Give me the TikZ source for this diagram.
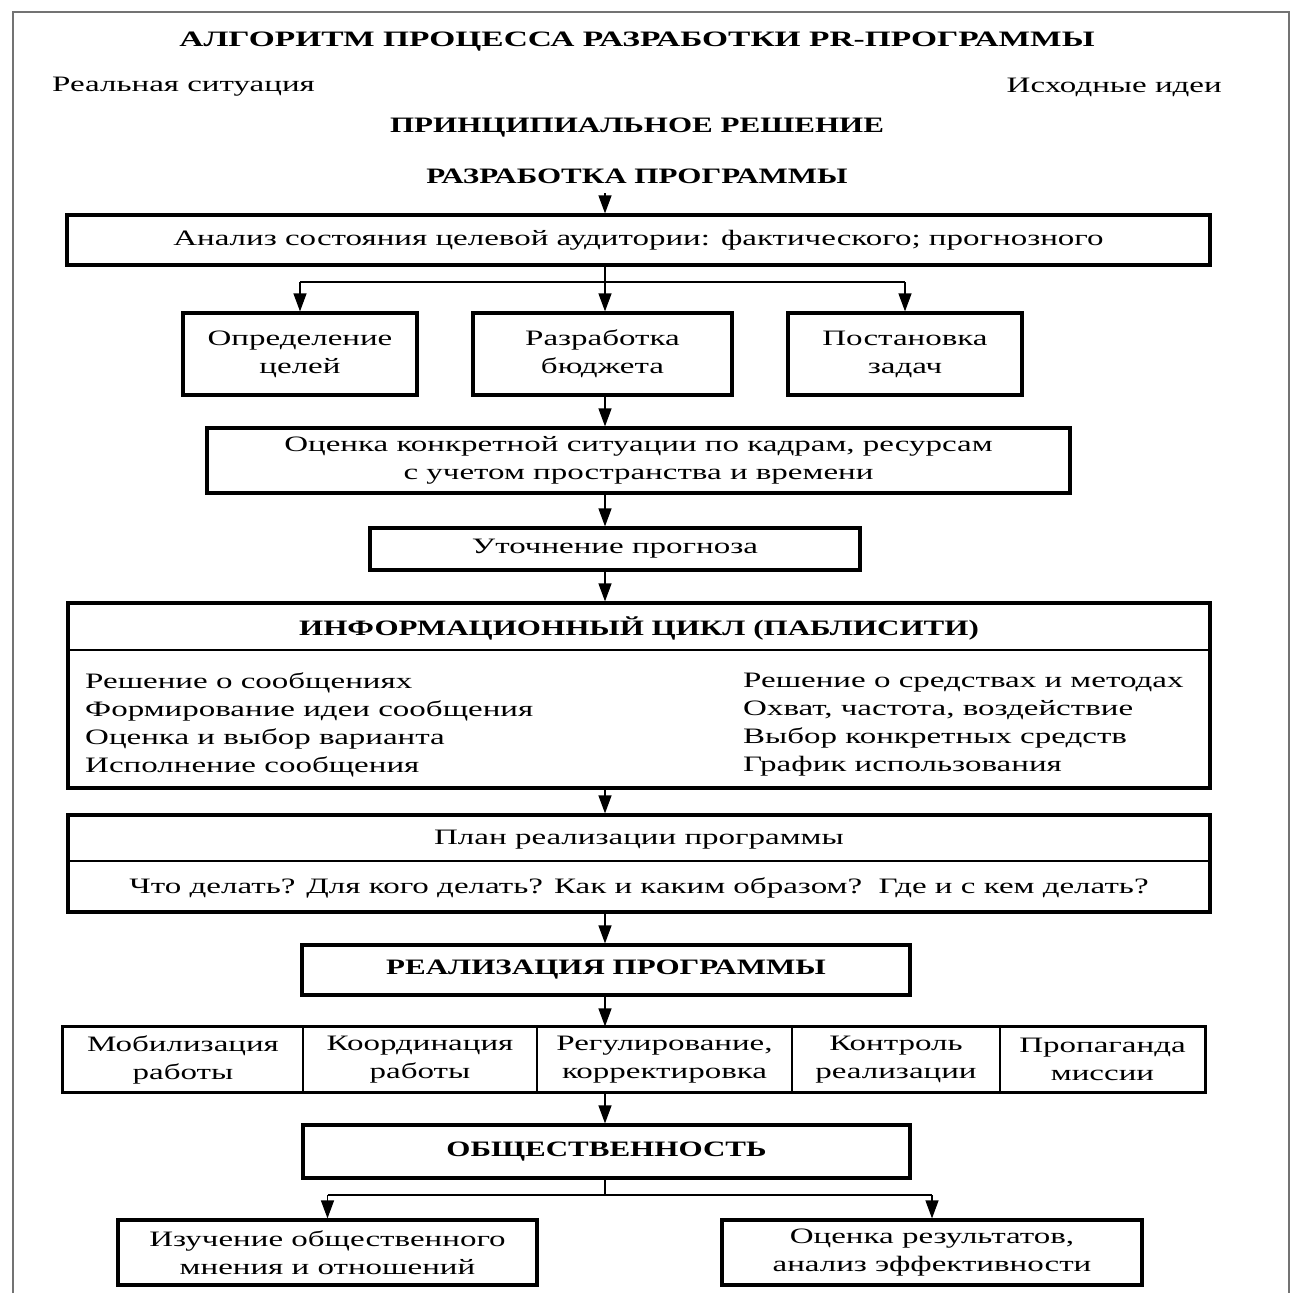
\documentclass[tikz,border=0pt]{standalone}
\usepackage{fontspec}
\setmainfont{Liberation Serif}[FakeStretch=1.5]
\newfontfamily\hd{Liberation Serif}[FakeStretch=1.41]
\newfontfamily\hdt{Liberation Serif}[FakeStretch=1.52]
\usetikzlibrary{arrows.meta}
\newcommand\fs{\fontsize{22}{28}\selectfont}
\begin{document}
\begin{tikzpicture}[x=1pt,y=-1pt,
  every node/.style={font=\fs, inner sep=0pt},
  box/.style={draw, line width=3.2pt, align=center},
  head/.style={font=\fs\hd\bfseries},
  cell/.style={draw, line width=1.2pt, align=center, minimum height=65pt},
  arr/.style={line width=1.2pt, -{Triangle[length=18pt,width=13pt]}},
  ln/.style={line width=1.2pt},
  frame/.style={draw=black!55, line width=1.5pt}]
\useasboundingbox[fill=white] (0,0) rectangle (1295,1293);
\draw[frame] (13,1293) -- (13,12) -- (1289,12) -- (1289,1293);

\node[font=\fs\hdt\bfseries] (title) at (637,42) {АЛГОРИТМ ПРОЦЕССА РАЗРАБОТКИ PR-ПРОГРАММЫ};
\node[anchor=west] (real) at (52,87) {Реальная ситуация};
\node[anchor=east] (ideas) at (1222,87) {Исходные идеи};
\node[head] (princ) at (637,128) {ПРИНЦИПИАЛЬНОЕ РЕШЕНИЕ};
\node[head] (razr) at (637,176) {РАЗРАБОТКА ПРОГРАММЫ};

\coordinate (top) at (605,193);
\node[box, minimum width=1143pt, minimum height=50pt] (anal) at (638.5,240) {Анализ состояния целевой аудитории: фактического; прогнозного};
\draw[arr] (top) -- (top |- anal.north);

\node[box, minimum width=234pt, minimum height=82pt] (opr) at (300,354) {Определение\\целей};
\node[box, minimum width=259pt, minimum height=82pt] (bud) at (602.5,354) {Разработка\\бюджета};
\node[box, minimum width=234pt, minimum height=82pt] (zad) at (905,354) {Постановка\\задач};
\coordinate (br1) at (605,282);
\draw[ln] (anal.south -| top) -- (br1);
\draw[ln] (opr.north |- br1) -- (zad.north |- br1);
\draw[arr] (opr.north |- br1) -- (opr.north);
\draw[arr] (br1) -- (top |- bud.north);
\draw[arr] (zad.north |- br1) -- (zad.north);

\node[box, minimum width=863pt, minimum height=65pt] (ocen) at (638.5,460.5) {Оценка конкретной ситуации по кадрам, ресурсам\\с учетом пространства и времени};
\draw[arr] (bud.south -| top) -- (ocen.north -| top);

\node[box, minimum width=490pt, minimum height=42pt] (utoch) at (615,549) {Уточнение прогноза};
\draw[arr] (ocen.south -| top) -- (utoch.north -| top);

\node[box, minimum width=1142pt, minimum height=185pt] (info) at (639,695.5) {};
\draw[arr] (utoch.south -| top) -- (info.north -| top);
\node[head] (infoh) at (639,628) {ИНФОРМАЦИОННЫЙ ЦИКЛ (ПАБЛИСИТИ)};
\draw[ln] (info.west |- 0,650) -- (info.east |- 0,650);
\node[anchor=north west, align=left] (infoL) at (85,673) {Решение о сообщениях\\Формирование идеи сообщения\\Оценка и выбор варианта\\Исполнение сообщения};
\node[anchor=north west, align=left] (infoR) at (743,673) {Решение о средствах и методах\\Охват, частота, воздействие\\Выбор конкретных средств\\График использования};

\node[box, minimum width=1142pt, minimum height=97pt] (plan) at (639,863.5) {};
\draw[arr] (info.south -| top) -- (plan.north -| top);
\node (plan1) at (639,840) {План реализации программы};
\draw[ln] (plan.west |- 0,861) -- (plan.east |- 0,861);
\node (plan2) at (639,888) {Что делать? Для кого делать? Как и каким образом?\ \ Где и с кем делать?};

\node[box, head, minimum width=608pt, minimum height=50pt] (realiz) at (606,970) {РЕАЛИЗАЦИЯ ПРОГРАММЫ};
\draw[arr] (plan.south -| top) -- (realiz.north -| top);

\node[cell, minimum width=240pt] (c1) at (183,1059.5) {Мобилизация\\работы};
\node[cell, minimum width=234pt] (c2) at (420,1059.5) {Координация\\работы};
\node[cell, minimum width=255pt] (c3) at (664.5,1059.5) {Регулирование,\\корректировка};
\node[cell, minimum width=208pt] (c4) at (896,1059.5) {Контроль\\реализации};
\node[cell, minimum width=205pt] (c5) at (1102.5,1059.5) {Пропаганда\\миссии};
\draw[line width=3.2pt] (c1.north west) rectangle (c5.south east);
\draw[arr] (realiz.south -| top) -- (c3.north -| top);

\node[box, head, minimum width=607pt, minimum height=53pt] (obsh) at (606.5,1151.5) {ОБЩЕСТВЕННОСТЬ};
\draw[arr] (c3.south -| top) -- (obsh.north -| top);

\node[box, minimum width=419pt, minimum height=65pt] (izuch) at (327.5,1252.5) {Изучение общественного\\мнения и отношений};
\node[box, minimum width=420pt, minimum height=65pt] (ocres) at (932,1252.5) {Оценка результатов,\\анализ эффективности};
\coordinate (br2) at (605,1195);
\draw[ln] (obsh.south -| top) -- (br2);
\draw[ln] (izuch.north |- br2) -- (ocres.north |- br2);
\draw[arr] (izuch.north |- br2) -- (izuch.north);
\draw[arr] (ocres.north |- br2) -- (ocres.north);
\end{tikzpicture}
\end{document}
